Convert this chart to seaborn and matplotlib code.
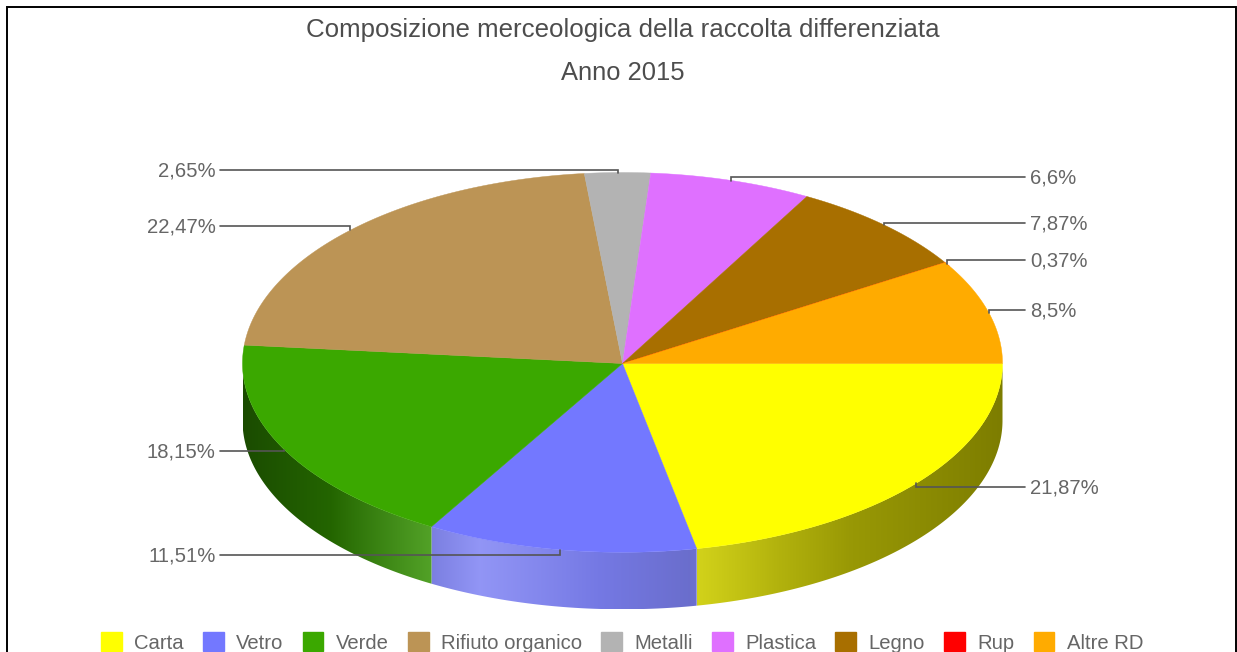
import numpy as np
import matplotlib
matplotlib.use("Agg")
import matplotlib.pyplot as plt
from matplotlib.patches import Patch, Polygon
import seaborn as sns

title_lines = ["Composizione merceologica della raccolta differenziata", "Anno 2015"]
categories = ["Carta", "Vetro", "Verde", "Rifiuto organico", "Metalli", "Plastica", "Legno", "Rup", "Altre RD"]
values = [21.87, 11.51, 18.15, 22.47, 2.65, 6.6, 7.87, 0.37, 8.5]
colors = ["#FFFF00", "#7378FF", "#3BA800", "#BC9455", "#B3B3B3", "#DF70FF", "#A86F00", "#FF0000", "#FFAB00"]

sns.set_theme(style="white")
plt.rcParams["font.family"] = ["Liberation Sans", "DejaVu Sans"]
palette = sns.color_palette(colors)

# pixel layout of the pseudo-3D pie
CX, CY, RX, RY_BACK, RY_FRONT, DEPTH = 622.5, 363.5, 380.0, 191.0, 188.8, 57.0
TEXT = "#666666"
LINE = "#555555"
LABEL_Y = [487, 555, 451, 226, 170, 177, 223, 260, 310]   # leader heights
LABEL_RIGHT = [True, False, False, False, False, True, True, True, True]

fig = plt.figure(figsize=(12.37, 6.52), dpi=100, facecolor="white")
ax = fig.add_axes([0, 0, 1, 1])
ax.axis("off")

def view(theta):
    # slight perspective skew of the back half of the disc
    return np.interp(theta, np.radians([0, 185.5, 226, 266.4, 275.9, 299.7, 328, 360]),
                     np.radians([0, 185.5, 224.3, 264.2, 274.2, 299, 328, 360]))

def ell(theta, dy=0.0):
    theta = np.asarray(theta)
    t = view(theta)
    s = np.sin(t)
    return np.c_[CX + RX * np.cos(t), CY + np.where(s > 0, RY_FRONT, RY_BACK) * s + dy]

X_KNOTS = [CX - RX, 330, 428, 480, 600, 690, 700, 780, 850, CX + RX]
K_KNOTS = [0.45, 0.60, 0.85, 0.95, 0.88, 0.78, 0.80, 0.68, 0.59, 0.49]
W_KNOTS = [0.0, 0.0, 0.15, 0.25, 0.10, 0.10, 0.10, 0.05, 0.02, 0.0]

def shade_row(rgb, xs):
    c = np.array(rgb)[None, :]
    k = np.interp(xs, X_KNOTS, K_KNOTS)[:, None]
    w = np.interp(xs, X_KNOTS, W_KNOTS)[:, None]
    out = c * k
    return np.clip(out + w * (1 - out), 0, 1)

fractions = np.array(values) / np.sum(values)
edges = np.r_[0, np.cumsum(fractions)] * 2 * np.pi

# side wall (only the front half can be seen): a horizontal gradient clipped to each wall piece
for i, col in enumerate(palette):
    t0, t1 = edges[i], min(edges[i + 1], np.pi)
    if t0 >= np.pi:
        continue
    ts = np.linspace(t0, t1, 200)
    wall = np.r_[ell(ts), ell(ts[::-1], DEPTH)]
    x0, x1 = wall[:, 0].min(), wall[:, 0].max()
    y0, y1 = wall[:, 1].min(), wall[:, 1].max()
    xs = np.linspace(x0, x1, max(2, int(x1 - x0) * 2))
    grad = shade_row(col, xs)[None, :, :]
    im = ax.imshow(grad, extent=(x0, x1, y1, y0), aspect="auto", interpolation="bilinear", zorder=1)
    clip = Polygon(wall, closed=True, transform=ax.transData)
    im.set_clip_path(clip)

# top face; the hairline Rup wedge ends up under the Altre RD wedge, as in the reference
for i, col in enumerate(palette):
    start = edges[i - 1] if categories[i] == "Altre RD" else edges[i]
    ts = np.linspace(start, edges[i + 1], max(2, int(np.degrees(edges[i + 1] - start)) * 2))
    ax.add_patch(Polygon(np.r_[[[CX, CY]], ell(ts)], closed=True, facecolor=col, edgecolor=col, linewidth=0.3, zorder=2))

# leaders and percentage labels
mids = (edges[:-1] + edges[1:]) / 2
for v, m, ly, right in zip(values, mids, LABEL_Y, LABEL_RIGHT):
    ax_, ay = ell([m])[0]
    xe = 1025 if right else 220
    ax.plot([xe, ax_, ax_], [ly, ly, ay], color=LINE, lw=1.2, zorder=3, solid_joinstyle="miter")
    txt = f"{v:g}".replace(".", ",") + "%"
    ax.text(1030 if right else 215.5, ly + 6.4, txt, ha="left" if right else "right", va="baseline",
            fontsize=14.6, color=TEXT, zorder=4)

# titles
ax.text(622.5, 37, title_lines[0], ha="center", va="baseline", fontsize=18.6, color="#4d4d4d")
ax.text(622.5, 80.5, title_lines[1], ha="center", va="baseline", fontsize=18.4, color="#4d4d4d")

ax.set_xlim(0, 1237)
ax.set_ylim(652, 0)

# legend
handles = [Patch(facecolor=c, edgecolor=c, label=n) for c, n in zip(palette, categories)]
leg = ax.legend(handles=handles, ncol=len(handles), loc="center", bbox_to_anchor=(622, 642.5),
                bbox_transform=ax.transData, frameon=False, fontsize=14.6, labelcolor=TEXT,
                handlelength=1.03, handleheight=1.03, handletextpad=0.6, columnspacing=0.95, borderpad=0)

# outer frame, cut by the lower edge of the picture
ax.plot([7, 7, 1236, 1236], [652, 7, 7, 652], color="black", lw=1.4, zorder=5,
        solid_joinstyle="miter", clip_on=False)

fig.savefig("out.png", dpi=100)
